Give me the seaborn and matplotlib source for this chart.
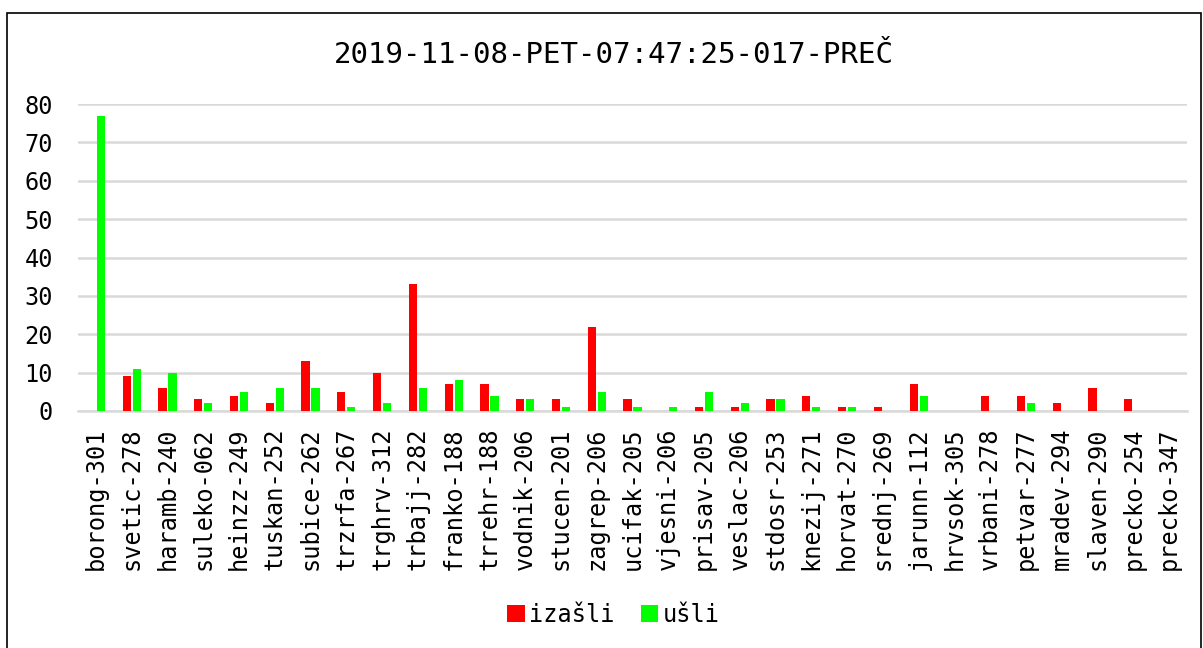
import numpy as np
import matplotlib as mpl
import matplotlib.pyplot as plt
import pandas as pd
import seaborn as sns

mpl.use('Agg')

# data
kategorije = ['borong-301', 'svetic-278', 'haramb-240', 'suleko-062', 'heinzz-249',
              'tuskan-252', 'subice-262', 'trzrfa-267', 'trghrv-312', 'trbajj-282',
              'franko-188', 'trrehr-188', 'vodnik-206', 'stucen-201', 'zagrep-206',
              'ucifak-205', 'vjesni-206', 'prisav-205', 'veslac-206', 'stdosr-253',
              'knezij-271', 'horvat-270', 'srednj-269', 'jarunn-112', 'hrvsok-305',
              'vrbani-278', 'petvar-277', 'mradev-294', 'slaven-290', 'precko-254',
              'precko-347']
izasli = [0, 9, 6, 3, 4, 2, 13, 5, 10, 33, 7, 7, 3, 3, 22, 3, 0, 1, 1, 3,
          4, 1, 1, 7, 0, 4, 4, 2, 6, 3, 0]
usli = [77, 11, 10, 2, 5, 6, 6, 1, 2, 6, 8, 4, 3, 1, 5, 1, 1, 5, 2, 3,
        1, 1, 0, 4, 0, 0, 2, 0, 0, 0, 0]
naslov = '2019-11-08-PET-07:47:25-017-PREČ'

df = pd.DataFrame({'stanica': kategorije, 'izašli': izasli, 'ušli': usli})
df = df.melt(id_vars='stanica', var_name='smjer', value_name='broj')

sns.set_style('white')
plt.rcParams['font.family'] = ['DejaVu Sans Mono']
plt.rcParams['text.color'] = 'black'
plt.rcParams['xtick.color'] = 'black'
plt.rcParams['ytick.color'] = 'black'

fig = plt.figure(figsize=(12.03, 6.48), dpi=100)
ax = fig.add_axes([78 / 1203, 1 - 411 / 648, 1109 / 1203, 307 / 648])

sns.barplot(data=df, x='stanica', y='broj', hue='smjer', order=kategorije,
            hue_order=['izašli', 'ušli'], palette=['#ff0000', '#00ff00'],
            width=0.56, gap=0.18, saturation=1, linewidth=0, ax=ax, zorder=3)

ax.set_ylim(0, 80)
ax.set_yticks(range(0, 81, 10))
ax.set_xlim(-0.5, len(kategorije) - 0.5)
ax.yaxis.grid(True, color='#d9d9d9', linewidth=1.8, zorder=0)
ax.set_axisbelow(True)
for s in ['left', 'right', 'top']:
    ax.spines[s].set_visible(False)
ax.spines['bottom'].set_color('#d9d9d9')
ax.spines['bottom'].set_linewidth(1.8)
ax.set_xlabel('')
ax.set_ylabel('')
ax.tick_params(axis='x', rotation=90, labelsize=17, length=0, pad=12)
ax.tick_params(axis='y', labelsize=17, length=0, pad=18)

ax.legend_.remove()
h, l = ax.get_legend_handles_labels()
fig.legend(h, l, loc='center', bbox_to_anchor=(0.51, 0.051), ncol=2, frameon=False,
           fontsize=17, handlelength=0.75, handleheight=0.75, handletextpad=0.2,
           columnspacing=1.1)

fig.text(0.51, 0.915, naslov, ha='center', va='center', fontsize=21)

# outer chart border
fig.patches.append(mpl.patches.Rectangle((7 / 1203, -0.01), 1194 / 1203, 1 - 13 / 648 + 0.01,
                                         transform=fig.transFigure, fill=False,
                                         edgecolor='black', linewidth=1.2))

fig.savefig('out.png', dpi=100)
